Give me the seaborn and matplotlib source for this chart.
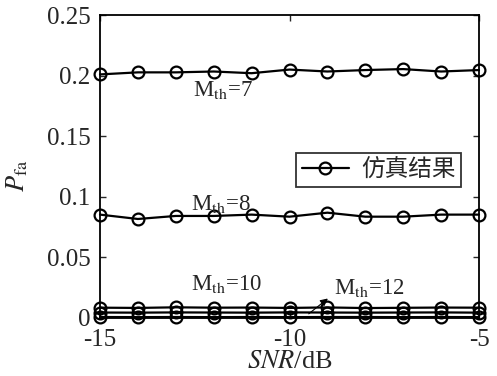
import matplotlib
matplotlib.use("Agg")
import matplotlib.pyplot as plt
import seaborn as sns
import numpy as np
import pandas as pd

snr = [-15, -14, -13, -12, -11, -10, -9, -8, -7, -6, -5]
pfa_m7 = [0.201, 0.2027, 0.2027, 0.2034, 0.202, 0.205, 0.2034, 0.2046, 0.2054, 0.2034, 0.2046]
pfa_m8 = [0.0853, 0.0817, 0.0842, 0.0842, 0.0853, 0.0836, 0.0869, 0.0836, 0.0836, 0.0853, 0.0853]
pfa_m10 = [0.0085, 0.0083, 0.0088, 0.0085, 0.0086, 0.0083, 0.0087, 0.0082, 0.0084, 0.0086, 0.0085]
pfa_m11 = [0.0045, 0.0044, 0.0046, 0.0045, 0.0044, 0.0046, 0.0045, 0.0044, 0.0045, 0.0046, 0.0044]
pfa_m12 = [0.0008, 0.0007, 0.0008, 0.0007, 0.0008, 0.0007, 0.0008, 0.0008, 0.0007, 0.0008, 0.0007]
legend_label = "仿真结果"

sns.set_style("ticks")
plt.rcParams['font.family'] = ['Liberation Serif', 'Noto Sans CJK SC']
plt.rcParams['mathtext.fontset'] = 'stix'

fig = plt.figure(figsize=(4.97, 3.76), dpi=100)
ax = fig.add_axes([0.2012, 0.1543, 0.7626, 0.8057])

series = [pfa_m7, pfa_m8, pfa_m10, pfa_m11, pfa_m12]
for i, vals in enumerate(series):
    sns.lineplot(x=snr, y=vals, ax=ax, color='black', marker='o', markersize=8.5,
                 markerfacecolor='none', markeredgecolor='black', markeredgewidth=1.6,
                 linewidth=1.6, label=legend_label if i == 0 else None, legend=False,
                 clip_on=False, zorder=3)

ax.set_xlim(-15, -5)
ax.set_ylim(0, 0.25)
ax.set_xticks([-15, -10, -5])
ax.set_xticklabels(['-15', '-10', '-5'])
ax.set_yticks([0, 0.05, 0.1, 0.15, 0.2, 0.25])
ax.set_yticklabels(['0', '0.05', '0.1', '0.15', '0.2', '0.25'])
ax.tick_params(direction='in', top=True, right=True, labelsize=18, length=4, width=1)
ax.tick_params(axis='x', pad=8)
ax.tick_params(axis='y', pad=7)
for s in ax.spines.values():
    s.set_linewidth(1.3)
    s.set_color('black')

ax.set_xlabel(r'$\mathit{SNR}$/dB', fontsize=19)
ax.set_ylabel(r'$\mathit{P}_{\mathrm{fa}}$', fontsize=19)
ax.xaxis.set_label_coords(0.5, -0.108)
ax.yaxis.set_label_coords(-0.185, 0.47)

fs = 16.5
ax.text(-12.55, 0.188, r'M$_{\mathrm{th}}$=7', fontsize=fs, va='center', ha='left')
ax.text(-12.6, 0.094, r'M$_{\mathrm{th}}$=8', fontsize=fs, va='center', ha='left')
ax.text(-12.6, 0.028, r'M$_{\mathrm{th}}$=10', fontsize=fs, va='center', ha='left')
ax.text(-8.82, 0.025, r'M$_{\mathrm{th}}$=12', fontsize=fs, va='center', ha='left')
ax.annotate('', xy=(-8.93, 0.0175), xytext=(-9.55, 0.002),
            arrowprops=dict(arrowstyle='-|>', color='black', lw=0.8, mutation_scale=11))

leg = ax.legend(loc='upper right', bbox_to_anchor=(0.953, 0.545), borderaxespad=0,
                fontsize=17, frameon=True, fancybox=False, edgecolor='black',
                handlelength=2.0, borderpad=0.25, handletextpad=0.5)
leg.get_frame().set_linewidth(1.3)

fig.savefig('out.png', dpi=100)
